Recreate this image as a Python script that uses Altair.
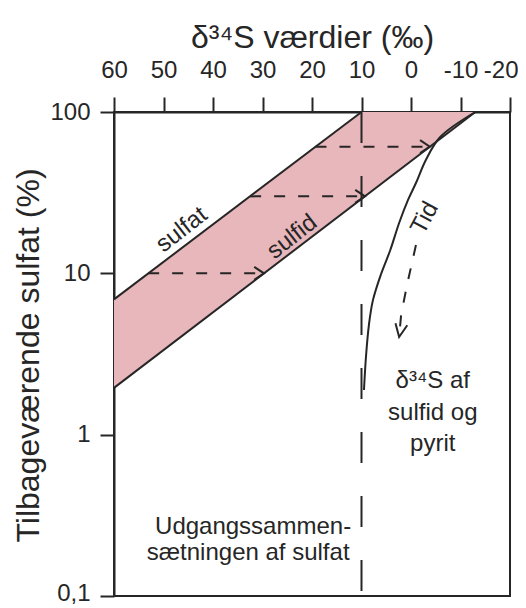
import altair as alt
import pandas as pd

# ---- data ----
x_ticks = [60, 50, 40, 30, 20, 10, 0, -10, -20]
y_ticks = [0.1, 1, 10, 100]

band_x = [60, 10, -13]
band_upper = [6.9, 100, 100]
band_lower = [1.95, 28.9, 100]

sulfat_x = [60, 10]
sulfat_y = [6.9, 100]
sulfid_x = [60, -13]
sulfid_y = [1.95, 100]

arrow_y = [10, 30, 61]
arrow_from = [53.1, 32.5, 19.3]
arrow_to = [29.7, 9.3, -3.8]

start_x = [10]
start_top = [100]
start_bottom = [0.1]

curve_x = [-13, -5.9, -3.0, -1.0, 0.6, 2.4, 4.2, 6.1, 7.7, 8.5, 9.1, 9.5]
curve_y = [100, 70.0, 50.4, 36.3, 28.5, 20.5, 13.9, 9.8, 6.8, 4.8, 3.03, 1.89]

tid_x = [-1.0, 0.8, 2.0, 2.4]
tid_y = [15.0, 8.47, 5.52, 4.03]

labels = ["sulfat", "sulfid", "Tid", "Udgangssammen-", "sætningen af sulfat",
          "δ³⁴S af", "sulfid og", "pyrit"]
label_x = [46.3, 24.0, -2.8, 31.9, 32.9, -4.4, -4.4, -4.4]
label_y = [18.6, 16.8, 22.0, 0.268, 0.185, 2.15, 1.36, 0.875]
label_angle = [322, 322, 298, 0, 0, 0, 0, 0]

# ---- styling ----
FONT = "Liberation Sans"
INK = "#262626"
PINK = "#e7b7bb"

xscale = alt.Scale(domain=[60, -20], nice=False, zero=False)
yscale = alt.Scale(type="log", domain=[0.1, 100], nice=False)

xaxis = alt.Axis(
    orient="top", values=x_ticks, title="δ³⁴S værdier (‰)",
    labelExpr="'' + datum.value", labelFlush=False,
    labelAlign={"condition": {"test": "datum.value == -20", "value": "right"},
                "value": "center"},
    labelOffset={"condition": {"test": "datum.value == -20", "value": 8},
                 "value": 0},
    tickSize=15, labelPadding=20, labelBaseline="alphabetic",
    titleY=-65, titleBaseline="alphabetic", grid=False,
)
yaxis = alt.Axis(
    values=y_ticks, title="Tilbageværende sulfat (%)",
    labelExpr="datum.value < 0.5 ? '0,1' : format(datum.value, 'd')",
    labelOffset={"condition": {"test": "datum.value < 0.5", "value": -3},
                 "value": 0},
    tickSize=14, labelPadding=10, grid=False,
    titleAngle=270, titleX=-76, titleY=243, titleAlign="center",
    titleBaseline="alphabetic",
)


def X(field):
    return alt.X(field, type="quantitative", scale=xscale, axis=xaxis)


def Y(field):
    return alt.Y(field, type="quantitative", scale=yscale, axis=yaxis)


band_df = pd.DataFrame({"x": band_x, "upper": band_upper, "lower": band_lower})
band = alt.Chart(band_df).mark_area(color=PINK, opacity=1).encode(
    x=X("x"), y=Y("upper"), y2="lower"
)

lines_df = pd.DataFrame({
    "x": sulfat_x + sulfid_x,
    "y": sulfat_y + sulfid_y,
    "id": ["sulfat"] * len(sulfat_x) + ["sulfid"] * len(sulfid_x),
    "o": list(range(len(sulfat_x))) + list(range(len(sulfid_x))),
})
lines = alt.Chart(lines_df).mark_line(color=INK, strokeWidth=2).encode(
    x=X("x"), y=Y("y"), detail="id:N", order="o:Q"
)

curve_df = pd.DataFrame({"x": curve_x, "y": curve_y, "o": list(range(len(curve_x)))})
curve = alt.Chart(curve_df).mark_line(
    color=INK, strokeWidth=2, interpolate="catmull-rom"
).encode(x=X("x"), y=Y("y"), order="o:Q")

arr_df = pd.DataFrame({"y": arrow_y, "from": arrow_from, "to": arrow_to})
arr_lines = alt.Chart(arr_df).mark_rule(
    color=INK, strokeWidth=2, strokeDash=[11, 13]
).encode(x=X("from"), x2="to", y=Y("y"))
arr_heads = alt.Chart(arr_df).mark_point(
    shape="M-1.5,-1L0,0L-1.5,1", filled=False, size=169,
    color=INK, strokeWidth=2, opacity=1,
).encode(x=X("to"), y=Y("y"))

start_df = pd.DataFrame({"x": start_x, "top": start_top, "bottom": start_bottom})
start_line = alt.Chart(start_df).mark_rule(
    color=INK, strokeWidth=2, strokeDash=[31, 33]
).encode(x=X("x"), y=Y("top"), y2="bottom")

tid_df = pd.DataFrame({"x": tid_x, "y": tid_y, "o": list(range(len(tid_x)))})
tid_line = alt.Chart(tid_df).mark_line(
    color=INK, strokeWidth=2, strokeDash=[11, 13]
).encode(x=X("x"), y=Y("y"), order="o:Q")
tid_head = alt.Chart(tid_df.tail(1)).mark_point(
    shape="M-0.92,-2L0,0L0.92,-2", filled=False, size=169,
    color=INK, strokeWidth=2, opacity=1, angle=10,
).encode(x=X("x"), y=Y("y"))

text_df = pd.DataFrame({"x": label_x, "y": label_y, "t": labels, "a": label_angle})
texts = alt.Chart(text_df).mark_text(
    font=FONT, fontSize=24, color=INK, align="center", baseline="middle"
).encode(
    x=X("x"), y=Y("y"), text="t:N", angle=alt.Angle("a:Q", scale=None)
)

chart = alt.layer(
    band, start_line, lines, curve, arr_lines, arr_heads, tid_line, tid_head, texts
).properties(
    width=396, height=484,
    padding={"left": 106, "top": 104, "right": 8, "bottom": 12},
    autosize=alt.AutoSizeParams(type="none"),
).configure_view(
    stroke=INK, strokeWidth=2
).configure_axis(
    labelFont=FONT, titleFont=FONT, labelFontSize=24, titleFontSize=32,
    labelColor=INK, titleColor=INK, titleFontWeight="normal",
    domainColor=INK, tickColor=INK, domainWidth=2, tickWidth=2,
)

chart.save("out.html", embed_options={"renderer": "svg", "actions": False})
